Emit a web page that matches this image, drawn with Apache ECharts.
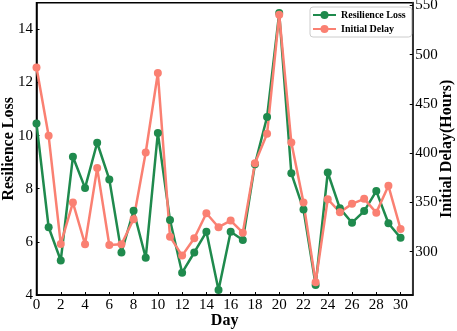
<!DOCTYPE html>
<html>
<head>
<meta charset="utf-8">
<script src="https://cdn.jsdelivr.net/npm/echarts@6/dist/echarts.min.js"></script>
<style>
  html, body { margin: 0; padding: 0; background: #fff; }
  #chart { width: 457px; height: 331px; }
</style>
</head>
<body>
<div id="chart"></div>
<script>
// days on the x axis
const days = [0, 1, 2, 3, 4, 5, 6, 7, 8, 9, 10, 11, 12, 13, 14, 15, 16, 17, 18, 19, 20, 21, 22, 23, 24, 25, 26, 27, 28, 29, 30]
const resilienceLoss = [10.45, 6.55, 5.3, 9.2, 8.03, 9.73, 8.35, 5.6, 7.17, 5.4, 10.1, 6.82, 4.84, 5.6, 6.38, 4.19, 6.38, 6.07, 8.92, 10.7, 14.61, 8.58, 7.22, 4.38, 8.61, 7.26, 6.72, 7.16, 7.91, 6.7, 6.15]
const initialDelay = [487, 417.6, 307.8, 349.8, 307.5, 384.8, 306.8, 307.5, 332.9, 400.6, 481.3, 315.2, 296, 313.6, 339, 324.8, 331.5, 319.3, 389.8, 419.6, 540.5, 410.8, 349.8, 268.9, 353.3, 340, 348.5, 353.6, 339.6, 366.8, 323]

const xTicks = [0, 2, 4, 6, 8, 10, 12, 14, 16, 18, 20, 22, 24, 26, 28, 30]
const leftTicks = [4, 6, 8, 10, 12, 14]
const rightTicks = [300, 350, 400, 450, 500, 550]

const green = '#1f8a4d'
const salmon = '#fa8072'
const serif = '"Liberation Serif", "DejaVu Serif", serif'

const chart = echarts.init(document.getElementById('chart'))

const axisLine = { show: true, lineStyle: { color: '#000', width: 1.5 } }
const axisTick = { show: true, inside: true, length: 3, lineStyle: { color: '#000', width: 1 } }

let option = {
  animation: false,
  grid: {
    left: 36.5,
    right: 44.3,
    top: 2.7,
    bottom: 36,
    containLabel: false,
    outerBoundsMode: 'none',
    show: true,
    borderColor: '#000',
    borderWidth: 1.5
  },
  legend: {
    orient: 'vertical',
    left: 310,
    top: 7,
    padding: [3, 6, 3, 2],
    itemWidth: 23,
    itemHeight: 10,
    itemGap: 4,
    borderColor: '#cccccc',
    borderWidth: 1,
    borderRadius: 3,
    backgroundColor: '#fff',
    textStyle: { fontFamily: serif, fontWeight: 'bold', fontSize: 10, color: '#000' },
    data: ['Resilience Loss', 'Initial Delay']
  },
  xAxis: {
    type: 'value',
    min: 0,
    max: 31,
    name: 'Day',
    nameLocation: 'middle',
    nameGap: 18,
    nameMoveOverlap: false,
    nameTextStyle: { fontFamily: serif, fontWeight: 'bold', fontSize: 16, color: '#000' },
    axisLine: axisLine,
    axisTick: Object.assign({ customValues: xTicks }, axisTick),
    axisLabel: { customValues: xTicks, margin: 3, fontFamily: serif, fontSize: 15, color: '#000' },
    splitLine: { show: false }
  },
  yAxis: [
    {
      type: 'value',
      position: 'left',
      min: 4,
      max: 15,
      name: 'Resilience Loss',
      nameLocation: 'middle',
      nameRotate: 90,
      nameGap: 20,
      nameMoveOverlap: false,
      nameTextStyle: { fontFamily: serif, fontWeight: 'bold', fontSize: 16, color: '#000' },
      axisLine: axisLine,
      axisTick: Object.assign({ customValues: leftTicks }, axisTick),
      axisLabel: { customValues: leftTicks, margin: 3.5, fontFamily: serif, fontSize: 15, color: '#000' },
      splitLine: { show: false }
    },
    {
      type: 'value',
      position: 'right',
      min: 256,
      max: 552.7,
      name: 'Initial Delay(Hours)',
      nameLocation: 'middle',
      nameRotate: 90,
      nameGap: 26,
      nameMoveOverlap: false,
      nameTextStyle: { fontFamily: serif, fontWeight: 'bold', fontSize: 16, color: '#000' },
      axisLine: { show: true, lineStyle: { color: '#333', width: 2 } },
      axisTick: Object.assign({ customValues: rightTicks }, axisTick),
      axisLabel: { customValues: rightTicks, margin: 2.5, fontFamily: serif, fontSize: 15, color: '#000' },
      splitLine: { show: false }
    }
  ],
  series: [
    {
      name: 'Resilience Loss',
      type: 'line',
      yAxisIndex: 0,
      data: days.map((d, i) => [d, resilienceLoss[i]]),
      symbol: 'circle',
      symbolSize: 8,
      color: green,
      lineStyle: { width: 2.5, color: green },
      itemStyle: { color: green }
    },
    {
      name: 'Initial Delay',
      type: 'line',
      yAxisIndex: 1,
      data: days.map((d, i) => [d, initialDelay[i]]),
      symbol: 'circle',
      symbolSize: 8,
      color: salmon,
      lineStyle: { width: 2.5, color: salmon },
      itemStyle: { color: salmon }
    }
  ]
}

chart.setOption(option)
</script>
</body>
</html>
